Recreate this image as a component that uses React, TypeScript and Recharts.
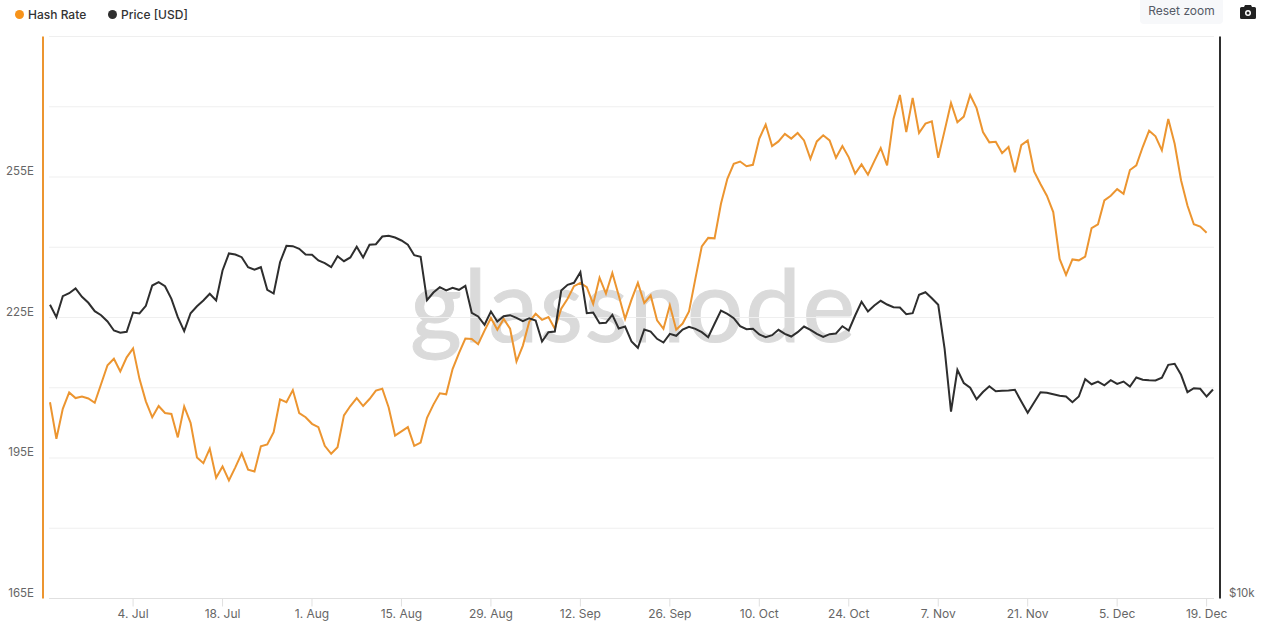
import { CartesianGrid, ComposedChart, Line, XAxis, YAxis } from 'recharts';

const FONT = 'Inter, sans-serif';
const HASH_COLOR = '#ec9530';
const PRICE_COLOR = '#2e2e2e';

const hashRate = [
  206.9, 199.1, 205.5, 209.0, 207.8, 208.1, 207.7, 206.8, 210.8, 214.8, 216.2, 213.5, 216.5, 218.4, 211.9, 207.1,
  203.7, 206.1, 204.6, 204.4, 199.4, 206.0, 202.5, 195.1, 193.9, 197.0, 190.8, 193.2, 190.2, 193.0, 196.0, 192.5,
  192.1, 197.5, 197.9, 200.5, 207.5, 206.9, 209.5, 204.6, 203.7, 202.3, 201.6, 197.6, 195.9, 197.3, 204.1, 206.1,
  207.8, 206.1, 207.6, 209.4, 209.8, 205.8, 199.8, 200.7, 201.6, 197.6, 198.3, 203.6, 206.4, 208.8, 208.6, 214.0,
  217.4, 220.5, 220.4, 219.3, 222.2, 224.9, 222.4, 224.7, 222.6, 215.6, 219.0, 224.1, 225.8, 224.5, 225.1, 222.6,
  226.9, 229.0, 231.7, 232.4, 231.5, 227.9, 233.5, 230.1, 234.5, 229.7, 224.7, 228.8, 232.4, 228.1, 229.7, 224.4,
  222.6, 227.6, 222.4, 223.7, 226.3, 233.3, 240.2, 242.0, 241.9, 249.3, 254.6, 257.8, 258.3, 257.3, 257.6, 263.2,
  266.2, 261.6, 262.6, 264.2, 263.2, 264.4, 262.8, 258.9, 262.6, 263.9, 262.8, 259.1, 261.6, 259.2, 255.7, 257.7,
  255.5, 258.4, 261.2, 257.5, 267.4, 272.5, 264.6, 271.9, 264.4, 266.4, 266.9, 259.1, 264.9, 270.8, 266.7, 267.9,
  272.5, 269.7, 264.6, 262.4, 262.5, 260.1, 261.4, 256.0, 261.8, 262.8, 256.2, 253.5, 251.0, 247.5, 237.5, 234.1,
  237.4, 237.2, 238.0, 244.1, 244.9, 250.0, 251.0, 252.4, 251.4, 256.5, 257.5, 261.4, 264.9, 263.7, 260.7, 267.4,
  262.1, 254.3, 248.9, 244.9, 244.4, 243.1, null,
];

const priceUsd = [
  20637, 20015, 21079, 21236, 21483, 21048, 20739, 20313, 20114, 19804, 19369, 19259, 19307, 20248, 20198, 20586,
  21643, 21820, 21606, 20944, 20015, 19335, 20213, 20565, 20857, 21204, 20857, 22459, 23421, 23363, 23208, 22642,
  22498, 22642, 21415, 21220, 22924, 23870, 23846, 23694, 23363, 23346, 23020, 22867, 22642, 23266, 22980, 23191,
  23811, 23191, 23929, 23964, 24424, 24466, 24364, 24184, 23929, 23323, 23231, 20872, 21272, 21552, 21378, 21520,
  21415, 21627, 20233, 20049, 19643, 20298, 19804, 20064, 20114, 19985, 19818, 19965, 19852, 18850, 19288, 19321,
  21378, 21680, 21787, 22365, 20213, 20248, 19721, 19740, 20134, 19465, 19561, 18850, 18559, 19417, 19321, 18976,
  18804, 19212, 19117, 19417, 19546, 19450, 19288, 19051, 19692, 20348, 20183, 19965, 19575, 19431, 19450, 19179,
  19051, 19145, 19402, 19212, 19084, 19288, 19561, 19402, 19212, 19070, 19193, 19226, 19575, 19369, 20099, 20790,
  20298, 20601, 20841, 20652, 20515, 20500, 20164, 20213, 21152, 21288, 20975, 20637, 18514, 15860, 17579, 17016,
  16816, 16349, 16642, 16882, 16675, 16691, 16704, 16732, 16257, 15809, 16217, 16634, 16609, 16552, 16487, 16458,
  16229, 16458, 17176, 16963, 17078, 16921, 17135, 16980, 17078, 16871, 17249, 17152, 17130, 17122, 17236, 17797,
  17841, 17364, 16634, 16800, 16775, 16458, 16745,
];

const monthNames = ['Jun', 'Jul', 'Aug', 'Sep', 'Oct', 'Nov', 'Dec'];
const monthLengths = [30, 31, 31, 30, 31, 30, 31];
const firstDay = 21;

const xTicks = ['4. Jul', '18. Jul', '1. Aug', '15. Aug', '29. Aug', '12. Sep', '26. Sep', '10. Oct', '24. Oct', '7. Nov', '21. Nov', '5. Dec', '19. Dec'];
const hashTicks = [165, 180, 195, 210, 225, 240, 255, 270, 285];
const hashLabels = [165, 195, 225, 255];
const legendItems = [
  { name: 'Hash Rate', color: '#f7931a', left: 15 },
  { name: 'Price [USD]', color: PRICE_COLOR, left: 108 },
];

const dates: string[] = [];
monthNames.forEach((month, m) => {
  for (let day = m === 0 ? firstDay : 1; day <= monthLengths[m]; day++) dates.push(`${day}. ${month}`);
});

const chartData = hashRate.map((hash, i) => ({ date: dates[i], hash, price: priceUsd[i] }));

function HashTick({ y, payload }: any) {
  if (!hashLabels.includes(payload.value)) return <g />;
  return (
    <text x={34} y={y - 2} textAnchor="end" fontSize={11.5} fontFamily={FONT} fill="#666">
      {payload.value}E
    </text>
  );
}

function PriceTick({ y }: any) {
  return (
    <text x={1229} y={y - 2} fontSize={11.5} fontFamily={FONT} fill="#666">
      $10k
    </text>
  );
}

export default function App() {
  return (
    <div style={{ position: 'absolute', left: 0, top: 0, width: 1262, height: 629, overflow: 'hidden', background: '#fff', fontFamily: FONT }}>
      {/* Watermark sits behind the chart */}
      <div style={{ position: 'absolute', left: 410, top: 253, fontFamily: 'Lato, sans-serif', fontSize: 100, lineHeight: '100px', letterSpacing: 1.5, color: '#dadada', WebkitTextStroke: '1px #dadada' }}>
        glassnode
      </div>

      <div style={{ position: 'absolute', left: 0, top: 0 }}>
        <ComposedChart width={1262} height={629} data={chartData} margin={{ top: 36.5, right: 0, bottom: 0, left: 0 }}>
          <CartesianGrid yAxisId="hash" vertical={false} stroke="#efefef" strokeWidth={1} />
          <XAxis
            dataKey="date"
            ticks={xTicks}
            interval={0}
            height={30.5}
            padding={{ left: 1, right: 1 }}
            scale="point"
            stroke="#e0e0e0"
            tickSize={8}
            tickMargin={3}
            tick={{ fill: '#666', fontSize: 12, fontFamily: FONT }}
          />
          <YAxis
            yAxisId="hash"
            width={49}
            domain={[165, 285]}
            ticks={hashTicks}
            interval={0}
            tickLine={false}
            axisLine={{ stroke: HASH_COLOR, strokeWidth: 2, style: { transform: 'translateX(-6px)' } }}
            tick={<HashTick />}
          />
          <YAxis
            yAxisId="price"
            orientation="right"
            width={48}
            scale="log"
            domain={[10000, 40000]}
            ticks={[10000]}
            interval={0}
            tickLine={false}
            axisLine={{ stroke: PRICE_COLOR, strokeWidth: 2, style: { transform: 'translateX(6px)' } }}
            tick={<PriceTick />}
          />
          <Line yAxisId="hash" dataKey="hash" name="Hash Rate" type="linear" stroke={HASH_COLOR} strokeWidth={2} dot={false} isAnimationActive={false} />
          <Line yAxisId="price" dataKey="price" name="Price [USD]" type="linear" stroke={PRICE_COLOR} strokeWidth={2} dot={false} isAnimationActive={false} />
        </ComposedChart>
      </div>

      {/* Legend */}
      {legendItems.map((item) => (
        <div key={item.name} style={{ position: 'absolute', left: item.left, top: 7, display: 'flex', alignItems: 'center', gap: 4, fontSize: 12, lineHeight: '15px', fontWeight: 500, color: '#333' }}>
          <span style={{ width: 9, height: 9, borderRadius: '50%', background: item.color }} />
          {item.name}
        </div>
      ))}

      {/* Toolbar */}
      <div style={{ position: 'absolute', left: 1140, top: 0, width: 83, height: 24, borderRadius: '0 0 4px 4px', background: '#f7f8fa', color: '#555a66', fontSize: 12, lineHeight: '22px', textAlign: 'center' }}>
        Reset zoom
      </div>
      <svg style={{ position: 'absolute', left: 1239, top: 4 }} width={18} height={16} viewBox="0 0 18 16">
        <path d="M1 4.5 Q1 3 2.5 3 H5 L6 1 H12 L13 3 H15.5 Q17 3 17 4.5 V13.5 Q17 15 15.5 15 H2.5 Q1 15 1 13.5 Z" fill="#222" />
        <circle cx={9} cy={9} r={3} fill="#fff" />
        <circle cx={9} cy={9} r={1.5} fill="#222" />
      </svg>
    </div>
  );
}
